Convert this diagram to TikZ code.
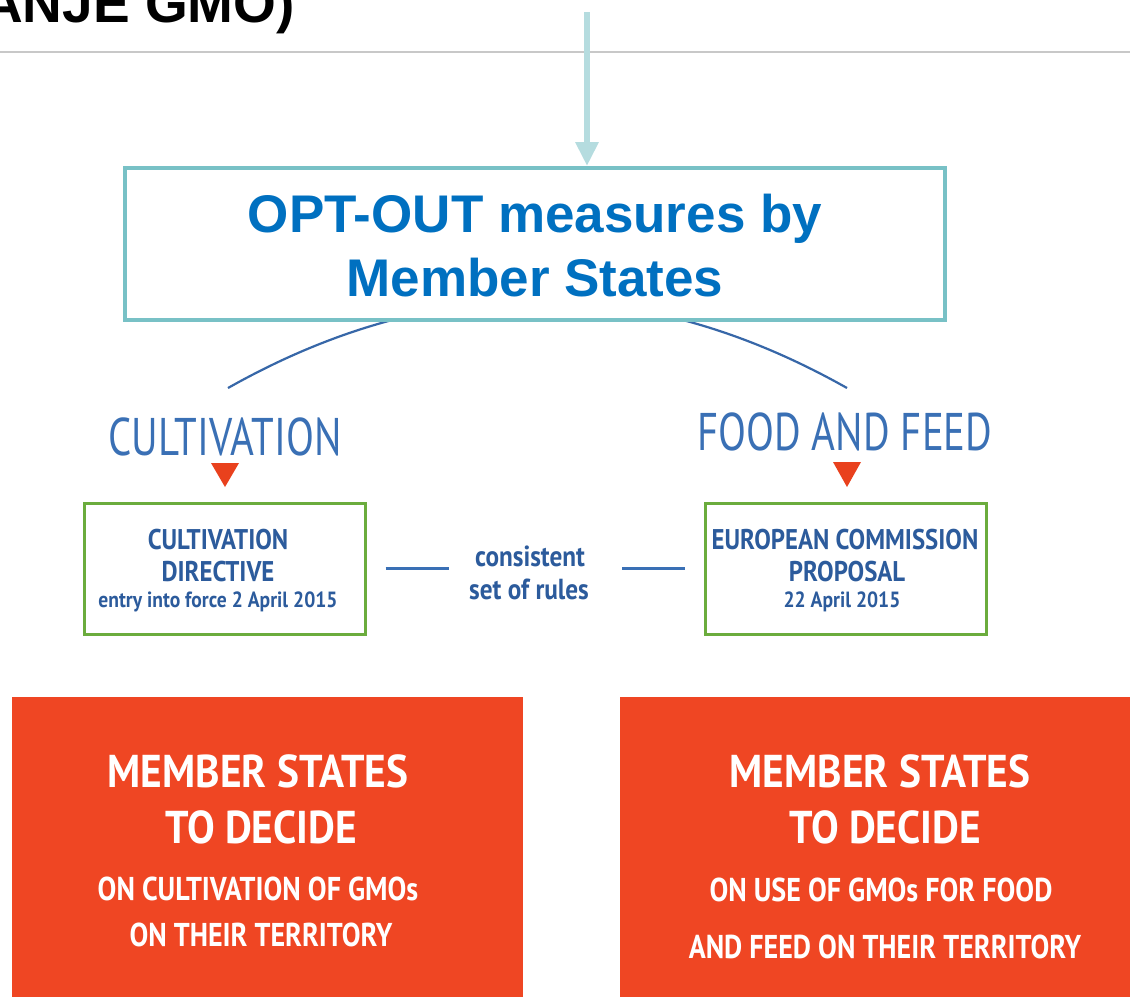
\documentclass[tikz,border=0pt]{standalone}
\usepackage{fontspec}
\setmainfont{Liberation Sans}
\newfontfamily\ptshead[FakeStretch=0.77]{PT Sans}
\newfontfamily\ptsbox[FakeStretch=0.87]{PT Sans}
\newfontfamily\ptssmall[FakeStretch=0.89]{PT Sans}
\newfontfamily\ptsred[FakeStretch=0.85]{PT Sans}
\newfontfamily\ptsredbig[FakeStretch=0.9]{PT Sans}
\usetikzlibrary{arrows.meta}
\definecolor{teal1}{HTML}{78C1C6}
\definecolor{arrowc}{HTML}{B5DCDF}
\definecolor{titleblue}{HTML}{0070C0}
\definecolor{curvec}{HTML}{3767A8}
\definecolor{headblue}{HTML}{3A70B5}
\definecolor{greenc}{HTML}{6BAC3D}
\definecolor{gtext}{HTML}{2C5B9C}
\definecolor{tric}{HTML}{E9411D}
\definecolor{redbox}{HTML}{EF4623}
\definecolor{rulec}{HTML}{C8C8C8}
\tikzset{
  txt/.style={inner sep=0pt, anchor=base},
  optbox/.style={draw=teal1, line width=4pt, fill=white, minimum width=820pt, minimum height=152pt, inner sep=0pt},
  opttext/.style={txt, text=titleblue, font=\fontsize{53}{60}\selectfont\bfseries},
  head/.style={txt, text=headblue, font=\ptshead\fontsize{53}{60}\selectfont},
  gbox/.style={draw=greenc, line width=3pt, minimum width=281pt, minimum height=131pt, inner sep=0pt},
  gbig/.style={txt, text=gtext, font=\ptsbox\bfseries\fontsize{28.5}{32}\selectfont},
  gsmall/.style={txt, text=gtext, font=\ptssmall\bfseries\fontsize{22}{26}\selectfont},
  gmid/.style={txt, text=gtext, font=\ptsbox\bfseries\fontsize{29}{32}\selectfont},
  rbox/.style={fill=redbox, inner sep=0pt},
  rbig/.style={txt, text=white, font=\ptsredbig\bfseries\fontsize{46}{52}\selectfont},
  rsmall/.style={txt, text=white, font=\ptsred\bfseries\fontsize{33}{38}\selectfont},
  link/.style={draw=headblue, line width=2.5pt},
  tri/.style={fill=tric},
}
\begin{document}
\begin{tikzpicture}[x=1pt,y=-1pt]
\useasboundingbox (0,0) rectangle (1130,997);
\clip (0,0) rectangle (1130,997);
\fill[white] (0,0) rectangle (1130,997);
% title fragment and rule
\node[txt, anchor=base east, font=\fontsize{55}{60}\selectfont\bfseries] (title) at (295,22) {ANJE GMO)};
\coordinate (ruleL) at (0,52);
\coordinate (ruleR) at (1130,52);
\draw[rulec, line width=2pt] (ruleL) -- (ruleR);
% arc behind the opt-out box
\coordinate (arcL) at (228,388);
\coordinate (arcR) at (847,388);
\draw[curvec, line width=2.2pt] (arcL) .. controls (434.3,271.7) and (640.7,271.7) .. (arcR);
% opt-out box
\node[optbox] (opt) at (535,244) {};
\node[opttext] (opt1) at (535,232) {OPT-OUT measures by};
\node[opttext] (opt2) at (535,296) {Member States};
\coordinate (arrowtop) at (587,12);
\draw[arrowc, line width=6pt, -{Triangle[width=22pt,length=24pt]}] (arrowtop) -- (arrowtop |- opt.north);
% headings
\node[head] (cult) at (225,455) {CULTIVATION};
\node[head] (ff) at (845,450) {FOOD AND FEED};
\fill[tri] (211,463) -- (239,463) -- (225,487) -- cycle;
\fill[tri] (833,462) -- (861,462) -- (847,487) -- cycle;
% green boxes
\node[gbox] (cd) at (224.5,568.5) {};
\node[gbig] (cd1) at (218,549) {CULTIVATION};
\node[gbig] (cd2) at (218,581) {DIRECTIVE};
\node[gsmall] (cd3) at (218,607) {entry into force 2 April 2015};
\node[gbox] (ec) at (846,568.5) {};
\node[gbig] (ec1) at (845,549) {EUROPEAN COMMISSION};
\node[gbig] (ec2) at (847,581) {PROPOSAL};
\node[gsmall] (ec3) at (842,607) {22 April 2015};
% consistent set of rules
\node[gmid] (rules1) at (530,566) {consistent};
\node[gmid] (rules2) at (529,599) {set of rules};
\draw[link, shorten <=19pt] (cd.east) -- ([xshift=-20pt]rules2.west |- cd.east);
\draw[link, shorten >=19pt] ([xshift=33pt]rules2.east |- ec.west) -- (ec.west);
% red boxes
\node[rbox, minimum width=511pt, minimum height=300pt] (rl) at (267.5,847) {};
\node[rbox, minimum width=510pt, minimum height=300pt] (rr) at (875,847) {};
\node[rbig] (rl1) at (258,787) {MEMBER STATES};
\node[rbig] (rl2) at (261,843) {TO DECIDE};
\node[rsmall] (rl3) at (258,900) {ON CULTIVATION OF GMOs};
\node[rsmall] (rl4) at (261,946) {ON THEIR TERRITORY};
\node[rbig] (rr1) at (880,787) {MEMBER STATES};
\node[rbig] (rr2) at (885,843) {TO DECIDE};
\node[rsmall] (rr3) at (881,901) {ON USE OF GMOs FOR FOOD};
\node[rsmall] (rr4) at (885,958) {AND FEED ON THEIR TERRITORY};
\end{tikzpicture}
\end{document}
